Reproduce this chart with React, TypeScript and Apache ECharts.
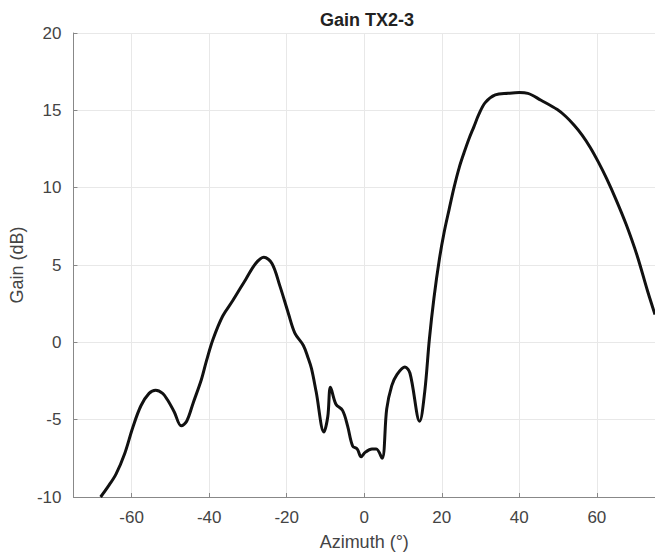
import React, { useEffect, useRef } from "react";
import * as echarts from "echarts";

const azimuth = [
  -68, -66, -64, -61.8, -59.7, -57.6, -55.5, -53.8, -52, -50.8, -49, -47.2, -45.8, -44.1,
  -42.0, -40.7, -39.0, -36.5, -33.9, -30.5, -28.0, -25.9, -23.8, -21.7, -19.6, -17.9,
  -15.7, -14.5, -13.6, -12.4, -10.4, -9.4, -8.7, -7.3, -5.6, -4.3, -3.0, -1.8, -0.8,
  0.3, 2.0, 3.1, 4.6, 5.8, 7.1, 8.4, 10.5, 11.8, 14.3, 15.6, 16.8, 18, 19.4, 20.6, 21.9,
  23.2, 24.5, 25.8, 27.0, 28.3, 29.5, 31.2, 33.8, 37.1, 40, 42.2, 45.6, 49.8, 52, 54.1,
  56.2, 58.3, 60.4, 62.5, 65, 67.6, 70.4, 73.1, 75,
];
const gain = [
  -10.0, -9.3, -8.5, -7.2, -5.5, -4.1, -3.3, -3.1, -3.3, -3.7, -4.5, -5.4, -5.1, -3.9,
  -2.4, -1.2, 0.2, 1.7, 2.7, 4.1, 5.1, 5.5, 5.1, 3.6, 1.9, 0.6,
  -0.2, -1.0, -1.7, -3.2, -5.8, -4.8, -2.9, -4.0, -4.4, -5.4, -6.7, -6.9, -7.4,
  -7.1, -6.9, -6.9, -7.5, -4.3, -2.8, -2.1, -1.6, -2.0, -5.1, -3.2, 0.2, 2.9, 5.4, 7.1, 8.6,
  10.05, 11.3, 12.3, 13.15, 13.95, 14.7, 15.5, 16.0, 16.1, 16.15, 16.1, 15.65, 15.05, 14.6, 14.05,
  13.4, 12.6, 11.65, 10.6, 9.2, 7.6, 5.6, 3.3, 1.8,
];
const xTicks = [-60, -40, -20, 0, 20, 40, 60];

const titleText = "Gain TX2-3";
const xName = "Azimuth (°)";
const yName = "Gain (dB)";

export default function App() {
  const ref = useRef<HTMLDivElement>(null);
  useEffect(() => {
    if (!ref.current) return;
    const chart = echarts.init(ref.current, null, { renderer: "svg" });
    const font = "Liberation Sans, Arial, Helvetica, sans-serif";
    chart.setOption({
      animation: false,
      backgroundColor: "#ffffff",
      graphic: [
        {
          type: "text",
          x: 367,
          y: 20,
          style: {
            text: titleText,
            align: "center",
            verticalAlign: "middle",
            fontFamily: font,
            fontSize: 18,
            fontWeight: "bold",
            fill: "#222",
          },
        },
      ],
      grid: { left: 72, right: -7, top: 33, bottom: 58, containLabel: false },
      xAxis: {
        type: "value",
        min: -75,
        max: 75,
        name: xName,
        nameLocation: "middle",
        nameGap: 36,
        nameTextStyle: { fontFamily: font, fontSize: 18, color: "#444" },
        axisLine: { show: true, onZero: false, lineStyle: { color: "#888", width: 1 } },
        axisTick: { show: true, inside: true, length: 4, customValues: xTicks, lineStyle: { color: "#888" } },
        axisLabel: { customValues: xTicks, margin: 12, fontFamily: font, fontSize: 17, color: "#444" },
        splitLine: { show: true, lineStyle: { color: "#e8e8e8", width: 1 } },
      },
      yAxis: {
        type: "value",
        min: -10,
        max: 20,
        interval: 5,
        name: yName,
        nameLocation: "middle",
        nameGap: 39,
        nameTextStyle: { fontFamily: font, fontSize: 18, color: "#444" },
        axisLine: { show: true, onZero: false, lineStyle: { color: "#888", width: 1 } },
        axisTick: { show: true, inside: true, length: 4, lineStyle: { color: "#888" } },
        axisLabel: { margin: 12, fontFamily: font, fontSize: 17, color: "#444" },
        splitLine: { show: true, lineStyle: { color: "#e8e8e8", width: 1 } },
      },
      series: [
        {
          type: "line",
          data: azimuth.map((a, i) => [a, gain[i]]),
          showSymbol: false,
          smooth: 0.35,
          lineStyle: { color: "#111", width: 3 },
          clip: true,
        },
      ],
    });
    return () => chart.dispose();
  }, []);
  return (
    <div
      ref={ref}
      style={{ position: "absolute", left: 0, top: 0, width: 655, height: 556 }}
    />
  );
}
